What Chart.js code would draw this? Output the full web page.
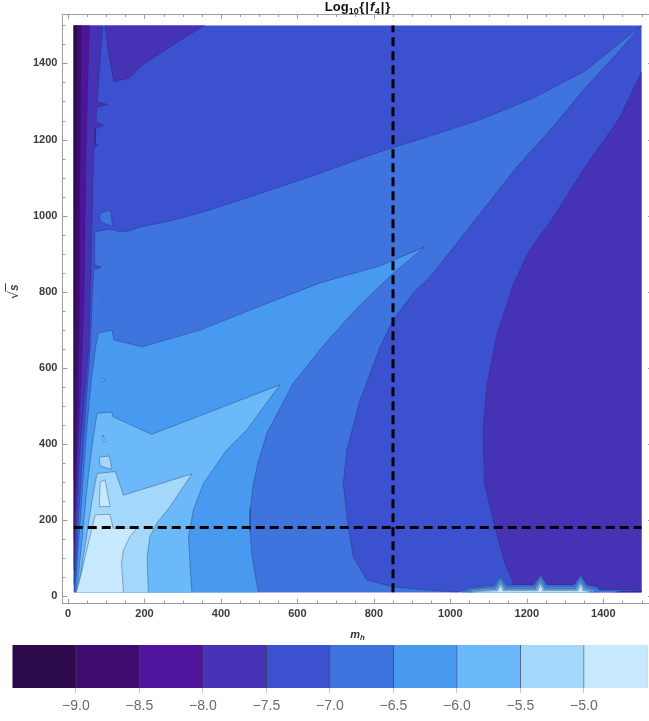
<!DOCTYPE html>
<html>
<head>
<meta charset="utf-8">
<script src="https://cdn.jsdelivr.net/npm/chart.js@4/dist/chart.umd.min.js"></script>
<style>
  html, body { margin: 0; padding: 0; background: #fff; overflow: hidden; width: 649px; height: 721px; }
  #plot { position: absolute; left: 0; top: 0; }
  #legendBar { position: absolute; left: 0; top: 640px; }
</style>
</head>
<body>
<canvas id="plot" width="660" height="640"></canvas>
<canvas id="legendBar" width="649" height="81"></canvas>
<script>
// ---- contour levels of log10|f4| and the colour of each band (lowest first)
const contourLevels = [-9.0, -8.5, -8.0, -7.5, -7.0, -6.5, -6.0, -5.5, -5.0];
const bandColors = ['#2c0a4b', '#3f0d6f', '#4f139c', '#4632b5', '#3c51cf',
                    '#3f74de', '#4899f0', '#6bb9f8', '#a4d8fb', '#c6e9fd'];
const barRange = [-9.5, -4.5];

// ---- scanned domain and reference cuts
const mhRange = [15, 1500];
const sqrtsRange = [10, 1500];
const mhCut = 850;
const sqrtsCut = 180;

// ---- axis ticks
const xTickValues = [0, 200, 400, 600, 800, 1000, 1200, 1400];
const yTickValues = [0, 200, 400, 600, 800, 1000, 1200, 1400];
const minorStep = 50;

// ---- band regions, points are [m_h, sqrt(s)]
// f < -7.5 pocket at large m_h
const troughRight = [[1500,1377],[1441,1254],[1352,1127],[1263,986],[1207,909],[1166,823],[1122,689],[1096,557],[1085,434],[1090,294],[1117,179],[1143,84],[1166,32],[1172,10],[1500,10]];
// f < -7.5 pocket at small m_h, large sqrt(s)
const troughTopLeft = [[96,1500],[107,1422],[120,1352],[159,1361],[194,1396],[254,1435],[306,1469],[358,1500]];
// thin bands along m_h -> 0
const edgeBelow75 = [[15,1500],[91,1500],[76,1299],[105,1292],[75,1285],[73,1246],[93,1238],[73,1230],[71,1190],[78,1185],[70,1180],[67,1172],[61,909],[54,647],[42,515],[31,384],[22,200],[17,68],[15,29]];
const edgeBelow80 = [[15,1500],[56,1500],[47,1172],[42,778],[34,568],[25,384],[18,200],[15,68]];
const edgeBelow85 = [[15,1500],[35,1500],[32,1172],[30,778],[25,515],[20,331],[15,147]];
const edgeBelow90 = [[15,1500],[24,1500],[21,1172],[20,778],[17,463],[15,305]];
// superlevel sets
const above70 = [[16,10],[20,68],[27,200],[37,357],[48,515],[58,647],[63,778],[67,857],[87,864],[68,870],[70,957],[106,964],[120,962],[137,957],[159,960],[194,971],[267,986],[345,1007],[476,1049],[607,1093],[711,1130],[816,1168],[947,1209],[1083,1254],[1221,1311],[1352,1380],[1430,1443],[1500,1500],[1441,1432],[1352,1335],[1263,1227],[1173,1127],[1083,1012],[949,841],[902,795],[850,725],[816,654],[764,515],[729,384],[720,296],[729,208],[746,103],[781,42],[850,24],[921,17],[1020,10]];
const above65 = [[17.5,10],[21,42],[30,173],[41,331],[51,463],[61,568],[73,660],[80,692],[115,699],[120,673],[194,655],[345,699],[502,762],[659,823],[816,868],[932,917],[852,850],[764,765],[685,678],[659,647],[589,559],[520,428],[497,350],[484,290],[477,230],[476,170],[481,110],[489,60],[498,10]];
const above60 = [[19,10],[26,42],[39,173],[52,305],[65,410],[76,480],[114,484],[118,471],[219,425],[554,555],[467,436],[415,384],[354,296],[328,226],[315,156],[319,86],[324,10]];
const above55 = [[21,10],[31,42],[47,147],[63,252],[76,322],[124,327],[145,265],[324,321],[267,235],[232,191],[214,156],[207,103],[210,10]];
const above50 = [[22,10],[37,68],[52,134],[71,213],[110,215],[118,178],[180,178],[162,156],[145,121],[140,86],[145,10]];
// small islands near the m_h -> 0 edge
const island70 = [[83,1006],[111,1014],[117,972],[93,980],[84,986]];
const dot70 = [[90,1104],[94,1109],[98,1104],[94,1099]];
const dot65 = [[91,782],[95,787],[99,782],[95,777]];
const dot60 = [[89,568],[93,573],[97,568],[93,563]];
const sliver55 = [[91,423],[99,406],[91,406]];
const island55 = [[82,365],[108,368],[115,333],[84,342]];
const island50 = [[84,300],[97,305],[110,235],[82,235]];
// ripples along the sqrt(s) threshold at large m_h
const floor70 = [[1020,10],[1051,22],[1114,29],[1131,53],[1148,29],[1218,29],[1236,55],[1253,29],[1323,29],[1341,55],[1357,29],[1381,24],[1391,16],[1500,15],[1500,10]];
const floor65 = [[1033,10],[1056,19],[1117,24],[1131,47],[1145,24],[1221,24],[1236,49],[1250,24],[1326,24],[1341,49],[1355,24],[1376,19],[1381,10]];
const floor60 = [[1041,10],[1062,17],[1119,20],[1131,41],[1143,20],[1223,20],[1236,43],[1247,20],[1328,20],[1341,43],[1352,20],[1373,16],[1376,10]];
const floor55 = [[1046,10],[1067,14],[1122,17],[1131,35],[1140,17],[1226,17],[1236,38],[1245,17],[1331,17],[1341,38],[1349,17],[1370,13],[1370,10]];
const floor50 = [[1051,10],[1072,12],[1124,14],[1131,30],[1138,14],[1229,14],[1236,33],[1242,14],[1334,14],[1341,33],[1347,14],[1365,12],[1365,10]];
const floorDeep = [[1430,10],[1445,12],[1500,13],[1500,10]];

// painting order: [band index, region]
const domain = [[mhRange[0], sqrtsRange[0]], [mhRange[1], sqrtsRange[0]], [mhRange[1], sqrtsRange[1]], [mhRange[0], sqrtsRange[1]]];
const layers = [
  [4, domain], [3, troughRight], [3, troughTopLeft],
  [3, edgeBelow75], [2, edgeBelow80], [1, edgeBelow85], [0, edgeBelow90],
  [5, above70], [5, island70], [5, dot70], [6, dot65],
  [6, above65], [7, dot60],
  [7, above60], [8, sliver55], [8, island55],
  [8, above55], [9, island50],
  [9, above50],
  [5, floor70], [6, floor65], [7, floor60], [8, floor55], [9, floor50], [2, floorDeep]
];

const FONT = '"Liberation Sans", Arial, Helvetica, sans-serif';
const contourStroke = 'rgba(28,36,85,0.5)';

function onBoundary(p, q) {
  return (p[0] <= mhRange[0] && q[0] <= mhRange[0]) ||
         (p[0] >= mhRange[1] && q[0] >= mhRange[1]) ||
         (p[1] <= sqrtsRange[0] && q[1] <= sqrtsRange[0]) ||
         (p[1] >= sqrtsRange[1] && q[1] >= sqrtsRange[1]);
}

// contour line of a region, broken where it runs along the domain border
function outline(points) {
  const out = [];
  const n = points.length;
  for (let i = 0; i < n; i++) {
    const p = points[i], q = points[(i + 1) % n];
    if (onBoundary(p, q)) {
      if (out.length && out[out.length - 1].y !== null) out.push({x: null, y: null});
      continue;
    }
    if (!out.length || out[out.length - 1].y === null) out.push({x: p[0], y: p[1]});
    out.push({x: q[0], y: q[1]});
  }
  return out;
}

const datasets = [];
let order = 1000;
layers.forEach(([band, pts]) => {
  datasets.push({
    data: pts.map(([m, s]) => ({x: m, y: s})),
    showLine: true, fill: 'shape', backgroundColor: bandColors[band],
    borderWidth: 0, pointRadius: 0, pointHoverRadius: 0, pointHitRadius: 0,
    tension: 0, order: order--
  });
  const line = outline(pts);
  if (line.length) {
    datasets.push({
      data: line, showLine: true, fill: false, spanGaps: false,
      borderColor: contourStroke, borderWidth: 0.7, borderJoinStyle: 'round',
      pointRadius: 0, pointHoverRadius: 0, pointHitRadius: 0,
      tension: 0, order: order--
    });
  }
});
// reference cuts
datasets.push({
  data: [{x: mhCut, y: sqrtsRange[0]}, {x: mhCut, y: sqrtsRange[1]}],
  showLine: true, fill: false, borderColor: '#000', borderWidth: 3, borderDash: [9, 5],
  pointRadius: 0, pointHoverRadius: 0, order: 1
});
datasets.push({
  data: [{x: mhRange[0], y: sqrtsCut}, {x: mhRange[1], y: sqrtsCut}],
  showLine: true, fill: false, borderColor: '#000', borderWidth: 3, borderDash: [9, 5],
  pointRadius: 0, pointHoverRadius: 0, order: 0
});

function drawRich(ctx, parts, cx, baseY, color) {
  let w = 0;
  parts.forEach(p => { ctx.font = p.font; p.w = ctx.measureText(p.text).width + (p.gap || 0); w += p.w; });
  let x = cx - w / 2;
  ctx.fillStyle = color;
  ctx.textAlign = 'left';
  ctx.textBaseline = 'alphabetic';
  const pos = [];
  parts.forEach(p => { ctx.font = p.font; ctx.fillText(p.text, x, baseY + (p.dy || 0)); pos.push([x, x + p.w]); x += p.w; });
  return pos;
}

// frame with inward ticks, title and axis labels
const framePlugin = {
  id: 'frame',
  afterDraw(chart) {
    const {ctx, chartArea: a, scales: {x, y}} = chart;
    ctx.save();
    ctx.strokeStyle = '#9c9c9c';
    ctx.lineWidth = 1;
    ctx.strokeRect(Math.round(a.left) + 0.5, Math.round(a.top) + 0.5,
                   Math.round(a.right - a.left) - 1, Math.round(a.bottom - a.top) - 1);
    ctx.beginPath();
    for (let v = 0; v <= mhRange[1]; v += minorStep) {
      const len = xTickValues.includes(v) ? 5 : 3;
      const px = Math.round(x.getPixelForValue(v)) + 0.5;
      ctx.moveTo(px, a.bottom); ctx.lineTo(px, a.bottom - len);
      ctx.moveTo(px, a.top); ctx.lineTo(px, a.top + len);
    }
    for (let v = 0; v <= sqrtsRange[1]; v += minorStep) {
      const len = yTickValues.includes(v) ? 5 : 3;
      const py = Math.round(y.getPixelForValue(v)) + 0.5;
      ctx.moveTo(a.left, py); ctx.lineTo(a.left + len, py);
      ctx.moveTo(a.right, py); ctx.lineTo(a.right - len, py);
    }
    ctx.stroke();

    const cx = x.getPixelForValue((mhRange[0] + mhRange[1]) / 2);
    // title
    drawRich(ctx, [
      {text: 'Log', font: 'bold 13px ' + FONT},
      {text: '10', font: 'bold 9px ' + FONT, dy: 3, gap: 0.5},
      {text: '{', font: 'bold 13px ' + FONT, gap: 1},
      {text: '|', font: 'bold 13px ' + FONT, gap: 1},
      {text: 'f', font: 'italic bold 13px ' + FONT, gap: 0.5},
      {text: '4', font: 'bold 9px ' + FONT, dy: 3, gap: 1},
      {text: '|', font: 'bold 13px ' + FONT, gap: 1},
      {text: '}', font: 'bold 13px ' + FONT}
    ], cx, 11, '#111');
    // x label
    drawRich(ctx, [
      {text: 'm', font: 'italic bold 11px ' + FONT},
      {text: 'h', font: 'italic bold 8px ' + FONT, dy: 2}
    ], cx, 638, '#333');
    // y label
    ctx.translate(14, y.getPixelForValue(800));
    ctx.rotate(-Math.PI / 2);
    const pos = drawRich(ctx, [
      {text: '\u221A', font: '13px "DejaVu Sans", sans-serif'},
      {text: 's', font: 'italic bold 12px ' + FONT}
    ], 0, 4, '#444');
    ctx.strokeStyle = '#444';
    ctx.lineWidth = 1;
    ctx.beginPath();
    ctx.moveTo(pos[1][0] - 1, -8.5);
    ctx.lineTo(pos[1][1] + 1, -8.5);
    ctx.stroke();
    ctx.restore();
  }
};

const tickFont = {family: FONT, size: 11, weight: 'bold'};
new Chart(document.getElementById('plot'), {
  type: 'scatter',
  data: {datasets},
  options: {
    responsive: false, animation: false, events: [],
    layout: {padding: {left: 0, right: 7, top: 14, bottom: 0}},
    plugins: {legend: {display: false}, tooltip: {enabled: false}},
    scales: {
      x: {
        type: 'linear', min: -14.65, max: 1530,
        grid: {display: false, drawTicks: false}, border: {display: false},
        afterBuildTicks: s => { s.ticks = xTickValues.map(v => ({value: v})); },
        afterFit: s => { s.height = 36.4; },
        ticks: {font: tickFont, color: '#3a3a3a', padding: 4, maxRotation: 0, autoSkip: false, callback: v => String(v)}
      },
      y: {
        type: 'linear', min: -20, max: 1530,
        grid: {display: false, drawTicks: false}, border: {display: false},
        afterBuildTicks: s => { s.ticks = yTickValues.map(v => ({value: v})); },
        afterFit: s => { s.width = 62.4; },
        ticks: {font: tickFont, color: '#3a3a3a', padding: 5, autoSkip: false, callback: v => String(v)}
      }
    }
  },
  plugins: [framePlugin]
});

// ---- colour bar
const bandEdges = [barRange[0], ...contourLevels, barRange[1]];
const barSets = bandColors.map((c, i) => ({
  data: [[bandEdges[i], bandEdges[i + 1]]],
  backgroundColor: c,
  borderColor: 'rgba(25,35,70,0.8)',
  borderWidth: {left: 0.6, right: 0.6, top: 0, bottom: 0},
  borderSkipped: false,
  barPercentage: 1, categoryPercentage: 1, grouped: false
}));
new Chart(document.getElementById('legendBar'), {
  type: 'bar',
  data: {labels: [''], datasets: barSets},
  options: {
    indexAxis: 'y', responsive: false, animation: false, events: [],
    layout: {padding: {left: 12.4, right: 1.6, top: 5, bottom: 0}},
    plugins: {legend: {display: false}, tooltip: {enabled: false}},
    scales: {
      x: {
        type: 'linear', min: barRange[0], max: barRange[1], offset: false,
        grid: {drawOnChartArea: false, drawTicks: true, tickLength: 5, color: '#c4c4c4'},
        border: {display: false},
        afterBuildTicks: s => { s.ticks = contourLevels.map(v => ({value: v})); },
        afterFit: s => { s.height = 33; },
        ticks: {font: {family: FONT, size: 14}, color: '#6a6a6a', padding: 5, maxRotation: 0, autoSkip: false,
                callback: v => (v < 0 ? '\u2212' : '') + Math.abs(v).toFixed(1)}
      },
      y: {display: false}
    }
  }
});
</script>
</body>
</html>
